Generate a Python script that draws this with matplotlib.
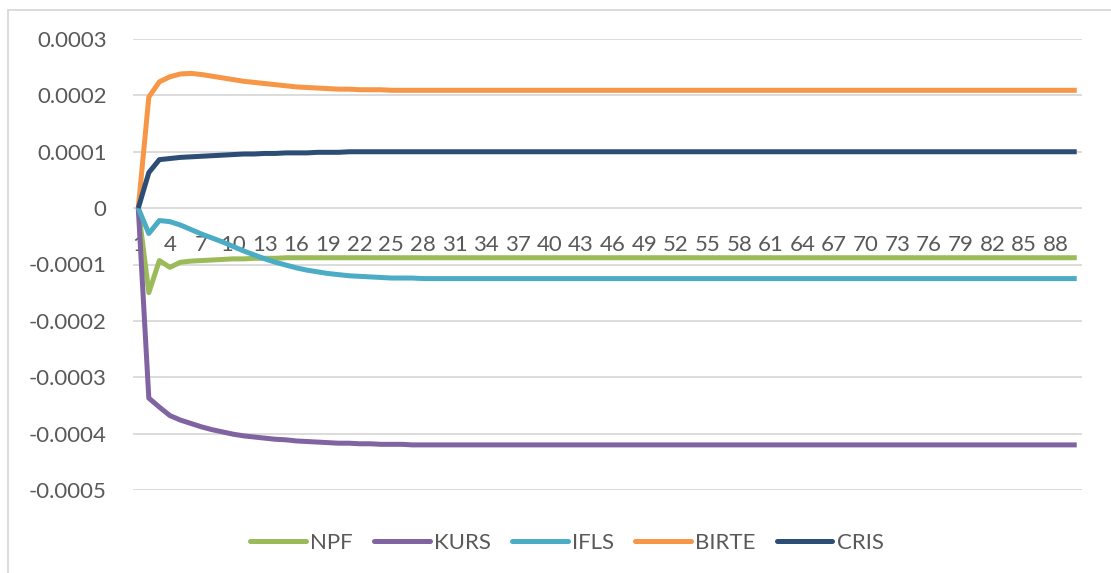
import numpy as np
import matplotlib.pyplot as plt
from matplotlib.patches import Rectangle

# periods 1..90
periods = list(range(1, 91))

npf = [0, -0.000150, -0.000093, -0.000105, -0.000096, -0.000094, -0.000093, -0.000092, -0.000091, -0.000090,
       -0.000090, -0.000089, -0.000089, -0.000089, -0.000088, -0.000088, -0.000088, -0.000088, -0.000088, -0.000088,
       -0.000088, -0.000088, -0.000088, -0.000088, -0.000088, -0.000088, -0.000088, -0.000088, -0.000088, -0.000088,
       -0.000088, -0.000088, -0.000088, -0.000088, -0.000088, -0.000088, -0.000088, -0.000088, -0.000088, -0.000088,
       -0.000088, -0.000088, -0.000088, -0.000088, -0.000088, -0.000088, -0.000088, -0.000088, -0.000088, -0.000088,
       -0.000088, -0.000088, -0.000088, -0.000088, -0.000088, -0.000088, -0.000088, -0.000088, -0.000088, -0.000088,
       -0.000088, -0.000088, -0.000088, -0.000088, -0.000088, -0.000088, -0.000088, -0.000088, -0.000088, -0.000088,
       -0.000088, -0.000088, -0.000088, -0.000088, -0.000088, -0.000088, -0.000088, -0.000088, -0.000088, -0.000088,
       -0.000088, -0.000088, -0.000088, -0.000088, -0.000088, -0.000088, -0.000088, -0.000088, -0.000088, -0.000088]

kurs = [0, -0.000337, -0.000353, -0.000368, -0.000376, -0.000382, -0.000388, -0.000393, -0.000397, -0.000401,
        -0.000404, -0.000406, -0.000408, -0.000410, -0.000411, -0.000413, -0.000414, -0.000415, -0.000416, -0.000417,
        -0.000417, -0.000418, -0.000418, -0.000419, -0.000419, -0.000419, -0.000420, -0.000420, -0.000420, -0.000420,
        -0.000420, -0.000420, -0.000420, -0.000420, -0.000420, -0.000420, -0.000420, -0.000420, -0.000420, -0.000420,
        -0.000420, -0.000420, -0.000420, -0.000420, -0.000420, -0.000420, -0.000420, -0.000420, -0.000420, -0.000420,
        -0.000420, -0.000420, -0.000420, -0.000420, -0.000420, -0.000420, -0.000420, -0.000420, -0.000420, -0.000420,
        -0.000420, -0.000420, -0.000420, -0.000420, -0.000420, -0.000420, -0.000420, -0.000420, -0.000420, -0.000420,
        -0.000420, -0.000420, -0.000420, -0.000420, -0.000420, -0.000420, -0.000420, -0.000420, -0.000420, -0.000420,
        -0.000420, -0.000420, -0.000420, -0.000420, -0.000420, -0.000420, -0.000420, -0.000420, -0.000420, -0.000420]

ifls = [0, -0.000045, -0.000022, -0.000024, -0.000030, -0.000038, -0.000046, -0.000053, -0.000060, -0.000068,
        -0.000076, -0.000083, -0.000090, -0.000096, -0.000101, -0.000106, -0.000110, -0.000113, -0.000116, -0.000118,
        -0.000120, -0.000121, -0.000122, -0.000123, -0.000124, -0.000124, -0.000124, -0.000125, -0.000125, -0.000125,
        -0.000125, -0.000125, -0.000125, -0.000125, -0.000125, -0.000125, -0.000125, -0.000125, -0.000125, -0.000125,
        -0.000125, -0.000125, -0.000125, -0.000125, -0.000125, -0.000125, -0.000125, -0.000125, -0.000125, -0.000125,
        -0.000125, -0.000125, -0.000125, -0.000125, -0.000125, -0.000125, -0.000125, -0.000125, -0.000125, -0.000125,
        -0.000125, -0.000125, -0.000125, -0.000125, -0.000125, -0.000125, -0.000125, -0.000125, -0.000125, -0.000125,
        -0.000125, -0.000125, -0.000125, -0.000125, -0.000125, -0.000125, -0.000125, -0.000125, -0.000125, -0.000125,
        -0.000125, -0.000125, -0.000125, -0.000125, -0.000125, -0.000125, -0.000125, -0.000125, -0.000125, -0.000125]

birte = [0, 0.000197, 0.000224, 0.000233, 0.000238, 0.000239, 0.000237, 0.000234, 0.000231, 0.000228,
         0.000225, 0.000223, 0.000221, 0.000219, 0.000217, 0.000215, 0.000214, 0.000213, 0.000212, 0.000211,
         0.000211, 0.000210, 0.000210, 0.000210, 0.000209, 0.000209, 0.000209, 0.000209, 0.000209, 0.000209,
         0.000209, 0.000209, 0.000209, 0.000209, 0.000209, 0.000209, 0.000209, 0.000209, 0.000209, 0.000209,
         0.000209, 0.000209, 0.000209, 0.000209, 0.000209, 0.000209, 0.000209, 0.000209, 0.000209, 0.000209,
         0.000209, 0.000209, 0.000209, 0.000209, 0.000209, 0.000209, 0.000209, 0.000209, 0.000209, 0.000209,
         0.000209, 0.000209, 0.000209, 0.000209, 0.000209, 0.000209, 0.000209, 0.000209, 0.000209, 0.000209,
         0.000209, 0.000209, 0.000209, 0.000209, 0.000209, 0.000209, 0.000209, 0.000209, 0.000209, 0.000209,
         0.000209, 0.000209, 0.000209, 0.000209, 0.000209, 0.000209, 0.000209, 0.000209, 0.000209, 0.000209]

cris = [0, 0.000063, 0.000086, 0.000088, 0.000090, 0.000091, 0.000092, 0.000093, 0.000094, 0.000095,
        0.000096, 0.000096, 0.000097, 0.000097, 0.000098, 0.000098, 0.000098, 0.000099, 0.000099, 0.000099,
        0.000100, 0.000100, 0.000100, 0.000100, 0.000100, 0.000100, 0.000100, 0.000100, 0.000100, 0.000100,
        0.000100, 0.000100, 0.000100, 0.000100, 0.000100, 0.000100, 0.000100, 0.000100, 0.000100, 0.000100,
        0.000100, 0.000100, 0.000100, 0.000100, 0.000100, 0.000100, 0.000100, 0.000100, 0.000100, 0.000100,
        0.000100, 0.000100, 0.000100, 0.000100, 0.000100, 0.000100, 0.000100, 0.000100, 0.000100, 0.000100,
        0.000100, 0.000100, 0.000100, 0.000100, 0.000100, 0.000100, 0.000100, 0.000100, 0.000100, 0.000100,
        0.000100, 0.000100, 0.000100, 0.000100, 0.000100, 0.000100, 0.000100, 0.000100, 0.000100, 0.000100,
        0.000100, 0.000100, 0.000100, 0.000100, 0.000100, 0.000100, 0.000100, 0.000100, 0.000100, 0.000100]

names = ['NPF', 'KURS', 'IFLS', 'BIRTE', 'CRIS']
colors = ['#9BBB59', '#8064A2', '#4BACC6', '#F79646', '#2C4D75']
yticks = [0.0003, 0.0002, 0.0001, 0, -0.0001, -0.0002, -0.0003, -0.0004, -0.0005]
ytick_labels = ['0.0003', '0.0002', '0.0001', '0', '-0.0001', '-0.0002', '-0.0003', '-0.0004', '-0.0005']

plt.rcParams['font.family'] = ['Lato', 'DejaVu Sans']
text_color = '#595959'
grid_color = '#D9D9D9'

fig = plt.figure(figsize=(11.11, 5.73), dpi=100)
ax = fig.add_axes([133 / 1111, 1 - 490 / 573, (1082 - 133) / 1111, (490 - 39) / 573])

for vals, name, c in zip([npf, kurs, ifls, birte, cris], names, colors):
    ax.plot(periods, vals, color=c, lw=3.6, label=name, solid_joinstyle='round', solid_capstyle='butt')

ax.set_xlim(0.5, 90.5)
ax.set_ylim(-0.0005, 0.0003)
ax.set_yticks(yticks)
ax.set_yticklabels(ytick_labels)
ax.set_xticks(periods[::3])
ax.set_xticklabels([str(p) for p in periods[::3]])

# gridlines by hand, behind the lines
for y in yticks:
    ax.axhline(y, color=grid_color, lw=1.3, zorder=0)

for s in ['top', 'right', 'left']:
    ax.spines[s].set_visible(False)
ax.spines['bottom'].set_position(('data', 0))
ax.spines['bottom'].set_visible(False)

ax.tick_params(axis='y', length=0, pad=19, labelsize=16, labelcolor=text_color)
ax.tick_params(axis='x', length=0, pad=19, labelsize=16, labelcolor=text_color)

leg = fig.legend(loc='center', bbox_to_anchor=(567 / 1111, 1 - 543 / 573), ncol=5, frameon=False,
                 fontsize=16, handlelength=2.5, handletextpad=0.2, columnspacing=0.95)
for t in leg.get_texts():
    t.set_color(text_color)
for h in leg.legend_handles:
    h.set_linewidth(3.6)
    h.set_solid_capstyle('round')

# chart border
border = Rectangle((8 / 1111, -0.05), 1.1, 1 - 10 / 573 + 0.05, transform=fig.transFigure,
                   fill=False, edgecolor=grid_color, lw=1.3, clip_on=False)
fig.patches.append(border)

fig.savefig('out.png', dpi=100)
